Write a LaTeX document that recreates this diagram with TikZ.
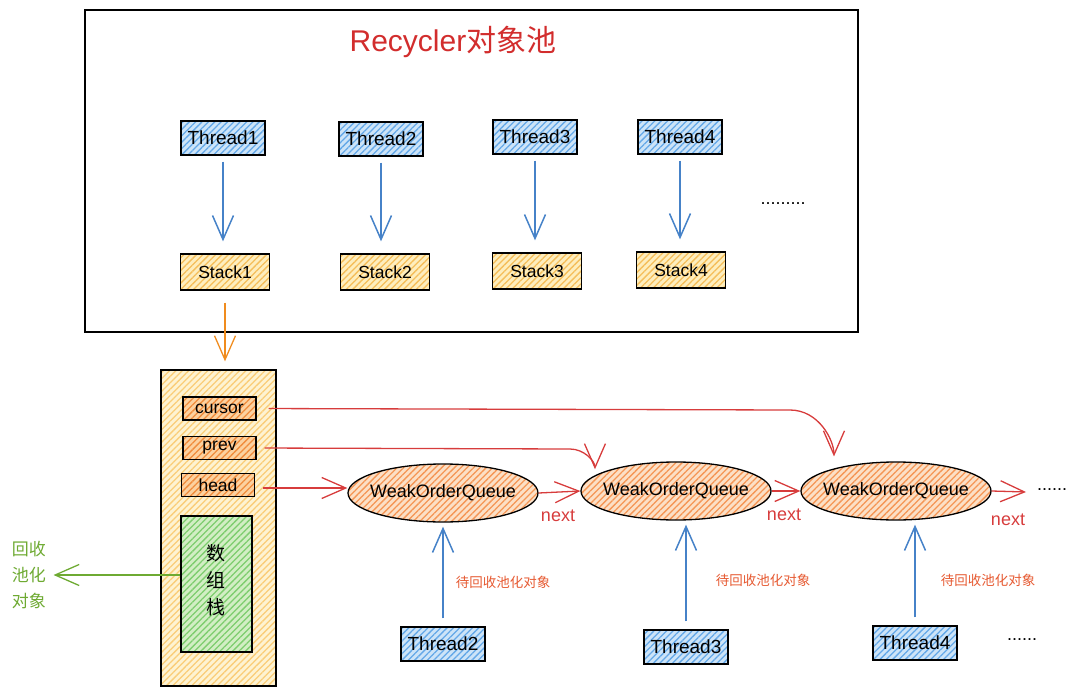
\documentclass[tikz,border=0pt]{standalone}
\usepackage{fontspec}
\setmainfont{Liberation Sans}
\newfontfamily\cjk{Noto Sans CJK SC}
\usetikzlibrary{arrows.meta,patterns.meta,shapes.geometric}
\definecolor{blueF}{RGB}{205,228,248}
\definecolor{blueH}{RGB}{100,168,232}
\definecolor{stackF}{RGB}{254,238,190}
\definecolor{stackH}{RGB}{245,190,90}
\definecolor{contF}{RGB}{254,243,210}
\definecolor{contH}{RGB}{250,205,120}
\definecolor{fieldF}{RGB}{252,210,160}
\definecolor{fieldH}{RGB}{240,140,60}
\definecolor{greenF}{RGB}{210,238,196}
\definecolor{greenH}{RGB}{125,205,110}
\definecolor{ellF}{RGB}{252,224,198}
\definecolor{ellH}{RGB}{245,150,85}
\definecolor{arrBlue}{RGB}{70,130,200}
\definecolor{arrRed}{RGB}{215,60,60}
\definecolor{arrOrange}{RGB}{240,140,30}
\definecolor{arrGreen}{RGB}{110,170,50}
\definecolor{lblOrange}{RGB}{230,90,50}
\definecolor{titleRed}{RGB}{210,45,45}
\tikzset{
  hatch/.style 2 args={preaction={fill=#1}, pattern={Lines[angle=45,distance=4.5pt,line width=1.3pt]}, pattern color=#2},
  box/.style={draw=black, line width=1.3pt, inner sep=0pt},
  thr/.style={box, hatch={blueF}{blueH}, minimum width=84, minimum height=34, font=\fontsize{19}{22}\selectfont},
  stk/.style={box, hatch={stackF}{stackH}, minimum width=89, minimum height=36, font=\fontsize{17.5}{20}\selectfont},
  fld/.style={box, hatch={fieldF}{fieldH}, minimum width=73, minimum height=23, font=\fontsize{17.5}{20}\selectfont},
  ell/.style={ellipse, draw=black, line width=1.3pt, hatch={ellF}{ellH}, minimum width=190, minimum height=58, inner sep=0pt, label={[font=\fontsize{18}{20}\selectfont]center:#1}},
  tip/.style={-{Straight Barb[length=24pt,width=21pt]}},
  barr/.style={tip, draw=arrBlue, line width=1.5pt},
  rarr/.style={tip, draw=arrRed, line width=1.3pt},
  oarr/.style={tip, draw=arrOrange, line width=1.3pt},
  garr/.style={tip, draw=arrGreen, line width=1.3pt},
  nxt/.style={text=arrRed, font=\fontsize{18}{20}\selectfont},
  lbl/.style={text=lblOrange, font=\cjk\fontsize{13.5}{16}\selectfont},
  dots/.style={font=\fontsize{18}{20}\selectfont}
}
\begin{document}
\begin{tikzpicture}[x=1pt,y=-1pt]
\useasboundingbox (0,0) rectangle (1080,693);
% outer pool box
\node[draw=black, line width=1.2pt, minimum width=773, minimum height=322, inner sep=0pt] (pool) at (471.5,171) {};
\node[text=titleRed, font=\fontsize{30}{34}\selectfont] (title) at (453,42) {Recycler{\cjk 对象池}};
% threads
\node[thr] (t1) at (223,138) {Thread1};
\node[thr] (t2) at (381,139) {Thread2};
\node[thr] (t3) at (535,137) {Thread3};
\node[thr] (t4) at (680,137) {Thread4};
% stacks
\node[stk] (s1) at (225,272) {Stack1};
\node[stk] (s2) at (385,272) {Stack2};
\node[stk] (s3) at (537,271) {Stack3};
\node[stk] (s4) at (681,270) {Stack4};
\node[dots] (dtop) at (783,204) {.........};
\foreach \a/\b in {t1/s1,t2/s2,t3/s3,t4/s4}
  \draw[barr, shorten <=6pt, shorten >=12pt] (\a.south) -- (\a.south |- \b.north);
% container
\node[box, hatch={contF}{contH}, minimum width=115, minimum height=316] (cont) at (218.5,528) {};
\draw[oarr, shorten <=12pt, shorten >=8pt] (s1.south) -- (s1.south |- cont.north);
\node[fld] (cursor) at (219.5,408.5) {cursor};
\node[fld] (prev) at (219.5,448) {prev};
\node[fld] (head) at (218,485) {head};
\node[box, hatch={greenF}{greenH}, minimum width=71, minimum height=136] (arr) at (216.5,584) {};
\node[font=\cjk\fontsize{19}{27}\selectfont, align=center] (arrtxt) at (216,580) {数\\组\\栈};
% recycled objects label
\node[text=arrGreen, font=\cjk\fontsize{17}{26}\selectfont, align=center] (rl) at (29,575) {回收\\池化\\对象};
\draw[garr, shorten >=4pt] (arr.west |- rl.east) -- (rl.east);
% queues
\node[ell=WeakOrderQueue] (e1) at (443,493) {};
\node[ell=WeakOrderQueue] (e2) at (676,491) {};
\node[ell=WeakOrderQueue] (e3) at (896,491) {};
\coordinate (e3n) at (1026,492);
\node[dots] (dq) at (1052,490) {......};
\coordinate (hd) at ([yshift=-3pt]head.east);
\draw[rarr, shorten <=8pt] (hd) -- (hd -| e1.west);
\draw[rarr] (e1.east) -- (e2.west);
\draw[rarr] (e2.east) -- (e3.west);
\draw[rarr] (e3.east) -- (e3n);
\node[nxt] (n1) at (558,516) {next};
\node[nxt] (n2) at (784,515) {next};
\node[nxt] (n3) at (1008,520) {next};
% prev and cursor links
\coordinate (pc) at (570,449);
\coordinate (cc) at (790,410);
\draw[rarr, shorten <=8pt, shorten >=6pt] (prev.east) -- (pc) to[out=0,in=90] (e2.169);
\draw[rarr, shorten <=12pt, shorten >=12pt] (cursor.east) -- (cc) to[out=0,in=90] (e3.160);
% producer threads
\node[thr] (b2) at (443,644) {Thread2};
\node[thr] (b3) at (686,647) {Thread3};
\node[thr] (b4) at (915,643) {Thread4};
\node[dots] (db) at (1022,640) {......};
\draw[barr, shorten <=8pt, shorten >=4pt] (b2.north) -- (b2.north |- e1.south);
\draw[barr, shorten <=8pt, shorten >=4pt] (b3.north) -- (b3.north |- e2.south);
\draw[barr, shorten <=8pt, shorten >=4pt] (b4.north) -- (b4.north |- e3.south);
\node[lbl] (l1) at (503,582) {待回收池化对象};
\node[lbl] (l2) at (763,580) {待回收池化对象};
\node[lbl] (l3) at (988,580) {待回收池化对象};
\end{tikzpicture}
\end{document}
